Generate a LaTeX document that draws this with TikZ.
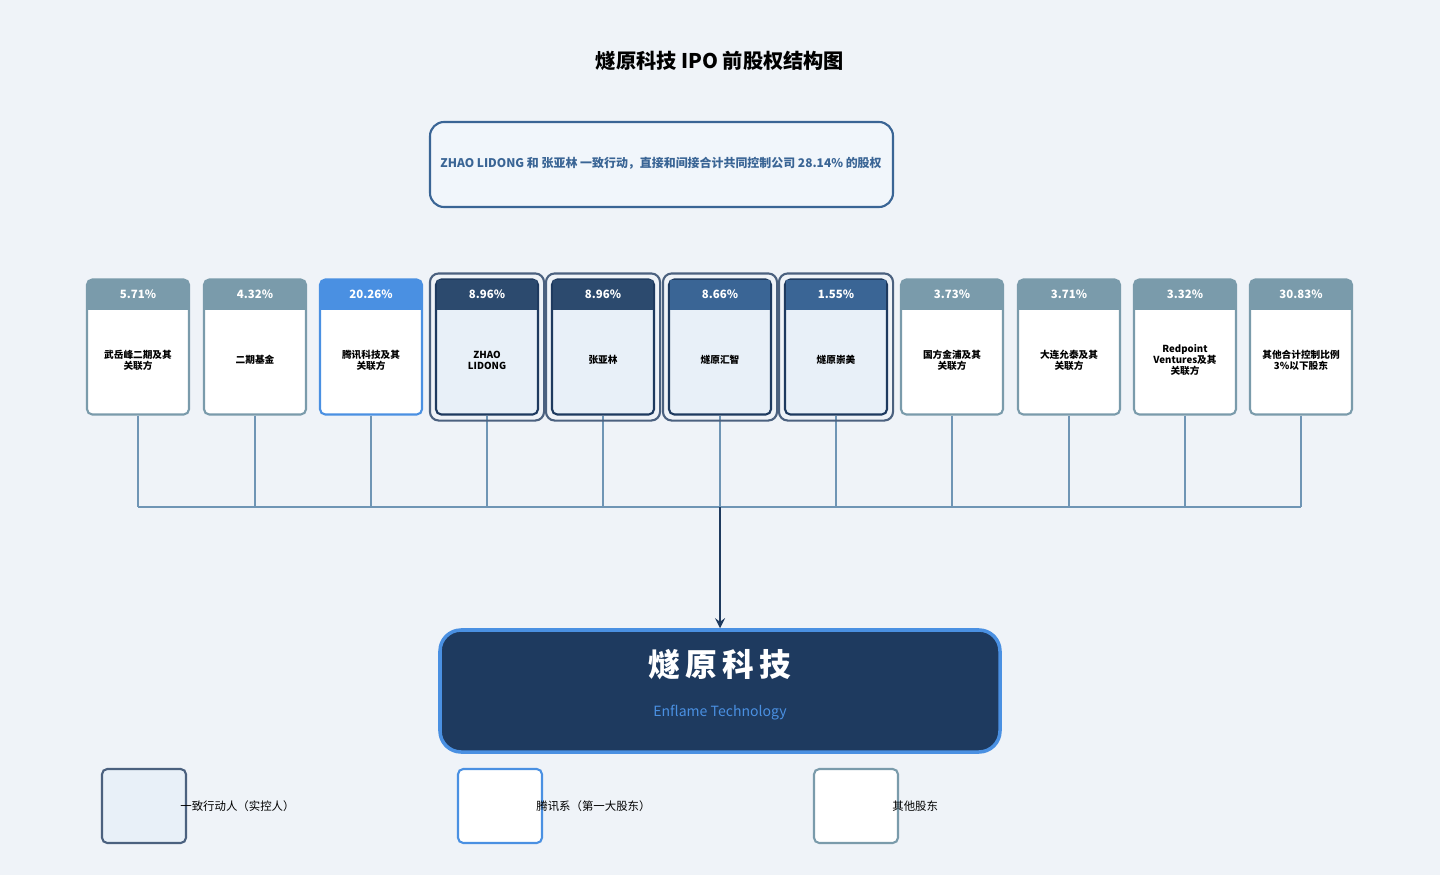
\documentclass[tikz,border=0pt]{standalone}
\usepackage{fontspec}
\setmainfont{Noto Sans CJK SC}
\usetikzlibrary{positioning}
\definecolor{bgc}{HTML}{EFF3F8}
\definecolor{navy}{HTML}{1E3A5F}
\definecolor{grayh}{HTML}{7A9BAB}
\definecolor{blueh}{HTML}{4A90E2}
\definecolor{darkh}{HTML}{2C4A6E}
\definecolor{midh}{HTML}{3A6595}
\definecolor{ctrlf}{HTML}{E8F0F8}
\definecolor{linec}{HTML}{6F95B5}
\tikzset{
  share/.style={draw=#1, line width=1.2pt, fill=white, rounded corners=3pt,
    minimum width=102*0.02cm, minimum height=135*0.02cm, inner sep=0pt},
  oth/.style={share=grayh},
  tx/.style={share=blueh},
  ctrl/.style={share=navy, fill=ctrlf},
  head/.style={fill=#1, text=white, font=\bfseries\fontsize{6.5}{7}\selectfont,
    minimum width=100*0.02cm, minimum height=30*0.02cm, inner sep=0pt},
  lbl/.style={font=\bfseries\fontsize{5.5}{6.2}\selectfont, align=center, text width=1.8cm},
  legend/.style={draw=#1, line width=1.2pt, rounded corners=3pt, minimum width=84*0.02cm, minimum height=74*0.02cm},
  legtext/.style={font=\fontsize{6.5}{7}\selectfont, anchor=west, inner sep=0pt},
}
\begin{document}
\begin{tikzpicture}[x=0.02cm, y=-0.02cm]
        \useasboundingbox[fill=bgc] (0,0) rectangle (1440,875);
        %Titre
        \node (title) at (720,61) {\bfseries\fontsize{11.5}{13}\selectfont 燧原科技 IPO 前股权结构图};
        %Note
        \draw [draw=midh, line width=1.2pt, fill=ctrlf!60!white, rounded corners=8pt] (430,122) rectangle (893,207);
        \node [text=midh] (note) at (661,163) {\bfseries\fontsize{6.8}{8}\selectfont ZHAO LIDONG 和 张亚林 一致行动，直接和间接合计共同控制公司 28.14\% 的股权};
        %Actionnaires
        \foreach \i/\x/\p/\t/\s/\h in {
            1/138/5.71\%/武岳峰二期及其\\关联方/oth/grayh,
            2/255/4.32\%/二期基金/oth/grayh,
            3/371/20.26\%/腾讯科技及其\\关联方/tx/blueh,
            4/487/8.96\%/ZHAO\\LIDONG/ctrl/darkh,
            5/603/8.96\%/张亚林/ctrl/darkh,
            6/720/8.66\%/燧原汇智/ctrl/midh,
            7/836/1.55\%/燧原崇美/ctrl/midh,
            8/952/3.73\%/国方金浦及其\\关联方/oth/grayh,
            9/1069/3.71\%/大连允泰及其\\关联方/oth/grayh,
            10/1185/3.32\%/Redpoint\\Ventures及其\\关联方/oth/grayh,
            11/1301/30.83\%/其他合计控制比例\\3\%以下股东/oth/grayh}{
          \expandafter\node\expandafter[\s] (b\i) at (\x,347) {};
          \node [head=\h, below=0.5pt of b\i.north] (h\i) {\p};
          \node [lbl] (t\i) at (\x,360) {\t};
          \coordinate (k\i) at (\x,507);
          \draw [linec, line width=0.8pt] (b\i.south) -- (k\i);
        }
        %Double cadre
        \foreach \i in {4,...,7}
          \draw [navy!80!white, line width=1.2pt, rounded corners=5pt] ([shift={(-5,-5)}]b\i.north west) rectangle ([shift={(5,5)}]b\i.south east);
        %Bus
        \draw [linec, line width=1.2pt] (k1) -- (k11);
        %Societe
        \node [draw=blueh, line width=2pt, fill=navy, rounded corners=12pt, minimum width=560*0.02cm, minimum height=122*0.02cm] (co) at (720,691) {};
        \node [text=white] (coname) at (720,665) {\bfseries\fontsize{18}{20}\selectfont 燧\,原\,科\,技};
        \node [text=blueh] (coen) at (720,713) {\fontsize{8}{9}\selectfont Enflame Technology};
        \coordinate (bus) at (720,507);
        \draw [->, >=stealth, navy, line width=1.5pt] (bus) -- (co.north);
        %Legende
        \node [legend=navy!80!white, fill=ctrlf] (l1) at (144,806) {};
        \node [legtext, right=-4pt of l1] (lt1) {一致行动人（实控人）};
        \node [legend=blueh, fill=white] (l2) at (500,806) {};
        \node [legtext, right=-4pt of l2] (lt2) {腾讯系（第一大股东）};
        \node [legend=grayh, fill=white] (l3) at (856,806) {};
        \node [legtext, right=-4pt of l3] (lt3) {其他股东};
\end{tikzpicture}
\end{document}
